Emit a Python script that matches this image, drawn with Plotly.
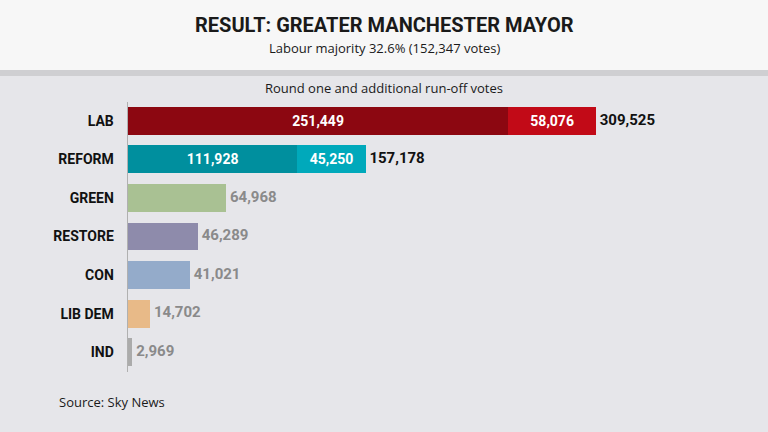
import plotly.graph_objects as go

parties = ["LAB", "REFORM", "GREEN", "RESTORE", "CON", "LIB DEM", "IND"]
round_one = [251449, 111928, 64968, 46289, 41021, 14702, 2969]
runoff = [58076, 45250, 0, 0, 0, 0, 0]
totals = [309525, 157178, 64968, 46289, 41021, 14702, 2969]

c1 = ["#8c0711", "#008f9e", "#a9c193", "#8e8bab", "#94abca", "#e8ba88", "#ababab"]
c2 = ["#c20a17", "#00a9bb", "#a9c193", "#8e8bab", "#94abca", "#e8ba88", "#ababab"]
cond = "Roboto, sans-serif"

fig = go.Figure()
fig.add_trace(go.Bar(
    y=parties, x=round_one, orientation="h", marker=dict(color=c1, line_width=0),
    text=[f"<b>{v:,}</b>" if r else "" for v, r in zip(round_one, runoff)],
    textposition="inside", insidetextanchor="middle",
    textfont=dict(color="white", size=14, family=cond), width=0.72,
))
fig.add_trace(go.Bar(
    y=parties, x=runoff, orientation="h", marker=dict(color=c2, line_width=0),
    text=[f"<b>{v:,}</b>" if v else "" for v in runoff],
    textposition="inside", insidetextanchor="middle",
    textfont=dict(color="white", size=14, family=cond), width=0.72,
))
fig.add_trace(go.Scatter(
    y=parties, x=totals, mode="text", text=[f" <b>{v:,}</b>" for v in totals],
    textposition="middle right",
    textfont=dict(size=15, family=cond,
                  color=["#111111" if r else "#8a8a8a" for r in runoff]),
    cliponaxis=False, hoverinfo="skip",
))

def note(text, y, size=13, x=0.5, xanchor="center", family="Open Sans, sans-serif"):
    return dict(text=text, xref="paper", yref="paper", x=x, xanchor=xanchor,
                y=1 - y / 432, yanchor="middle", showarrow=False,
                font=dict(size=size, family=family, color="#1a1a1a"))

fig.update_layout(
    width=768, height=432, barmode="stack", showlegend=False,
    margin=dict(l=0, r=0, t=0, b=0),
    paper_bgcolor="#e6e6ea", plot_bgcolor="rgba(0,0,0,0)",
    font=dict(family="Open Sans, sans-serif"),
    xaxis=dict(domain=[128 / 768, 0.84], range=[0, 342000], visible=False),
    yaxis=dict(domain=[0.14, 0.765], range=[6.5, -0.5], showgrid=False,
               ticks="", showline=True, linecolor="#b0b0b0",
               tickvals=parties, ticktext=[f"<b>{p}</b>   " for p in parties],
               tickfont=dict(size=14, family=cond, color="#111111")),
    shapes=[
        dict(type="rect", xref="paper", yref="paper", x0=0, x1=1, y0=1 - 76 / 432, y1=1 - 70 / 432,
             fillcolor="#cfcfd2", line_width=0, layer="below"),
        dict(type="rect", xref="paper", yref="paper", x0=0, x1=1, y0=1 - 70 / 432, y1=1,
             fillcolor="#f7f7f7", line_width=0, layer="below"),
    ],
    annotations=[
        note("<b>RESULT: GREATER MANCHESTER MAYOR</b>", 25, size=20, family=cond),
        note("Labour majority 32.6% (152,347 votes)", 48),
        note("Round one and additional run-off votes", 88),
        note("Source: Sky News", 402, x=57 / 768, xanchor="left"),
    ],
)
fig.write_html("out.html", config={"displayModeBar": False},
               post_script="document.body.style.margin='0';")
